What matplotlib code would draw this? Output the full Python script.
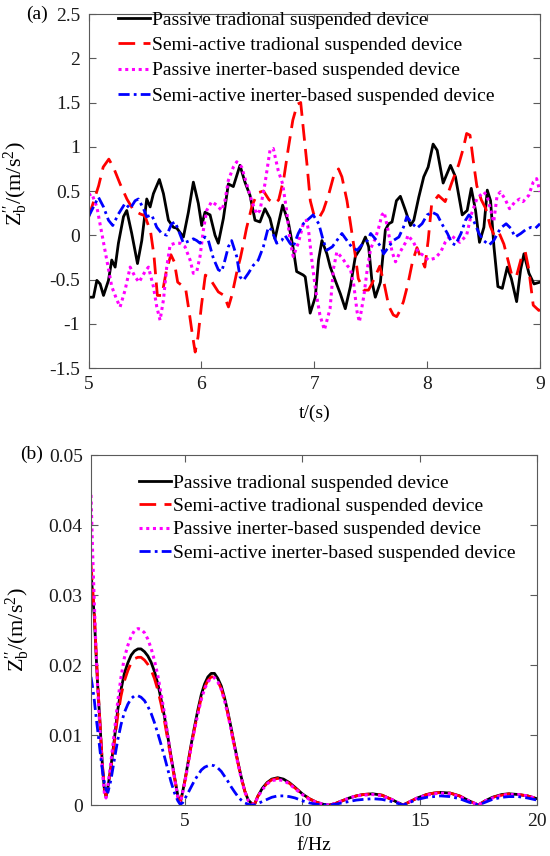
import matplotlib
matplotlib.use("Agg")
import matplotlib.pyplot as plt

plt.rcParams['font.family'] = ['Liberation Serif', 'DejaVu Serif']
plt.rcParams['mathtext.fontset'] = 'custom'
plt.rcParams['mathtext.rm'] = 'Liberation Serif'
plt.rcParams['mathtext.it'] = 'Liberation Serif:italic'

labels = ["Passive tradional suspended device",
          "Semi-active tradional suspended device",
          "Passive inerter-based suspended device",
          "Semi-active inerter-based suspended device"]

# ---------------- panel (a): time response ----------------
t_pt = [5.000, 5.044, 5.074, 5.103, 5.133, 5.177, 5.206, 5.236, 5.265, 5.310, 5.339, 5.383, 5.434, 5.472,
        5.516, 5.546, 5.575, 5.628, 5.664, 5.708, 5.752, 5.782, 5.841, 5.885, 5.929, 5.973, 6.003, 6.032,
        6.077, 6.121, 6.150, 6.195, 6.239, 6.283, 6.342, 6.386, 6.431, 6.475, 6.519, 6.563, 6.608, 6.652,
        6.720, 6.770, 6.814, 6.844, 6.903, 6.920, 6.964, 7.009, 7.038, 7.068, 7.112, 7.142, 7.186, 7.231,
        7.275, 7.320, 7.364, 7.408, 7.453, 7.482, 7.512, 7.541, 7.586, 7.630, 7.660, 7.689, 7.728, 7.763,
        7.808, 7.852, 7.882, 7.926, 7.970, 8.009, 8.053, 8.089, 8.142, 8.207, 8.251, 8.311, 8.355, 8.391,
        8.429, 8.464, 8.503, 8.533, 8.562, 8.592, 8.627, 8.666, 8.710, 8.746, 8.793, 8.828, 8.858, 8.902,
        8.947, 9.000]
a_pt = [-0.70, -0.70, -0.51, -0.55, -0.68, -0.51, -0.28, -0.36, -0.09, 0.21, 0.28, 0.02, -0.32, -0.06,
        0.41, 0.32, 0.47, 0.63, 0.47, 0.17, 0.09, 0.08, -0.02, 0.26, 0.60, 0.36, 0.11, 0.26,
        0.23, 0.00, -0.09, 0.19, 0.58, 0.55, 0.79, 0.60, 0.45, 0.17, 0.15, 0.30, 0.19, -0.04,
        0.34, 0.15, -0.15, -0.41, -0.45, -0.47, -0.88, -0.70, -0.28, -0.06, -0.21, -0.36, -0.51, -0.66,
        -0.83, -0.58, -0.24, -0.15, -0.02, -0.13, -0.53, -0.70, -0.53, 0.06, 0.13, 0.15, 0.39, 0.44,
        0.28, 0.11, 0.17, 0.43, 0.66, 0.77, 1.03, 0.96, 0.59, 0.79, 0.66, 0.23, 0.28, 0.53,
        0.28, -0.08, 0.09, 0.51, 0.39, -0.13, -0.58, -0.60, -0.36, -0.49, -0.75, -0.39, -0.21, -0.43,
        -0.55, -0.53]

t_st = [5.00, 5.04, 5.09, 5.13, 5.18, 5.22, 5.28, 5.34, 5.40, 5.46, 5.50, 5.55, 5.58, 5.61, 5.65,
        5.69, 5.73, 5.76, 5.79, 5.83, 5.86, 5.89, 5.92, 5.945, 5.97, 6.00, 6.035, 6.07, 6.11, 6.15,
        6.20, 6.24, 6.27, 6.32, 6.345, 6.375, 6.40, 6.45, 6.50, 6.55, 6.60, 6.65, 6.685, 6.73, 6.77,
        6.81, 6.85, 6.88, 6.905, 6.935, 6.965, 6.995, 7.04, 7.08, 7.13, 7.17, 7.215, 7.245, 7.29, 7.32,
        7.365, 7.39, 7.44, 7.48, 7.51, 7.545, 7.58, 7.62, 7.66, 7.70, 7.73, 7.76, 7.79, 7.83, 7.87,
        7.91, 7.94, 7.98, 8.01, 8.04, 8.10, 8.16, 8.22, 8.28, 8.32, 8.35, 8.38, 8.41, 8.44, 8.48,
        8.52, 8.56, 8.60, 8.64, 8.68, 8.72, 8.75, 8.79, 8.84, 8.87, 8.90, 8.94, 8.99, 9.00]
a_st = [0.20, 0.36, 0.56, 0.77, 0.86, 0.77, 0.58, 0.41, 0.28, 0.24, 0.22, 0.04, -0.23, -0.68, -0.68,
        -0.40, -0.22, -0.30, -0.53, -0.57, -0.60, -0.85, -1.12, -1.32, -1.15, -0.80, -0.45, -0.48, -0.56, -0.64,
        -0.68, -0.81, -0.68, -0.38, -0.26, -0.08, 0.08, 0.34, 0.48, 0.50, 0.40, 0.36, 0.40, 0.64, 0.98,
        1.30, 1.48, 1.50, 1.18, 0.81, 0.39, 0.24, 0.19, 0.28, 0.47, 0.66, 0.75, 0.66, 0.39, 0.14,
        -0.24, -0.49, -0.62, -0.62, -0.55, -0.45, -0.35, -0.55, -0.80, -0.90, -0.92, -0.85, -0.75, -0.55, -0.30,
        -0.14, -0.24, -0.36, -0.05, 0.35, 0.45, 0.38, 0.60, 0.80, 0.98, 1.15, 1.13, 0.83, 0.56, 0.40,
        0.30, 0.10, -0.02, 0.02, -0.10, -0.30, -0.45, -0.47, -0.23, -0.19, -0.38, -0.79, -0.85, -0.84]

t_pi = [5.000, 5.029, 5.074, 5.118, 5.162, 5.206, 5.251, 5.280, 5.324, 5.369, 5.413, 5.448, 5.501, 5.531,
        5.575, 5.605, 5.634, 5.664, 5.693, 5.723, 5.767, 5.811, 5.855, 5.900, 5.929, 5.959, 5.988, 6.018,
        6.047, 6.091, 6.136, 6.180, 6.209, 6.239, 6.283, 6.313, 6.357, 6.401, 6.445, 6.490, 6.519, 6.563,
        6.608, 6.637, 6.681, 6.720, 6.755, 6.785, 6.814, 6.858, 6.903, 6.93, 6.95, 6.98, 7.01, 7.05,
        7.09, 7.14, 7.17, 7.20, 7.25, 7.29, 7.32, 7.35, 7.38, 7.40, 7.44, 7.47, 7.50, 7.54,
        7.57, 7.60, 7.62, 7.65, 7.69, 7.72, 7.76, 7.81, 7.83, 7.88, 7.92, 7.97, 8.01, 8.07,
        8.12, 8.16, 8.21, 8.25, 8.29, 8.35, 8.39, 8.44, 8.50, 8.53, 8.56, 8.59, 8.62, 8.65,
        8.69, 8.73, 8.78, 8.82, 8.85, 8.90, 8.94, 8.97, 9.00]
a_pi = [0.45, 0.47, 0.32, 0.02, -0.28, -0.58, -0.73, -0.81, -0.62, -0.36, -0.47, -0.53, -0.41, -0.36,
        -0.58, -0.81, -0.96, -0.73, -0.36, -0.11, -0.09, -0.09, -0.13, -0.28, -0.43, -0.41, -0.24, 0.06,
        0.28, 0.38, 0.34, 0.28, 0.39, 0.62, 0.77, 0.83, 0.77, 0.58, 0.39, 0.24, 0.28, 0.58,
        0.96, 0.98, 0.73, 0.58, 0.28, -0.06, -0.24, -0.09, 0.13, 0.17, 0.05, -0.30, -0.60, -0.90,
        -1.07, -0.83, -0.38, -0.19, -0.26, -0.34, -0.38, -0.56, -0.87, -0.98, -0.68, -0.38, -0.15, -0.04,
        0.08, 0.23, 0.26, 0.08, -0.19, -0.30, -0.19, -0.08, 0.00, -0.08, -0.19, -0.23, -0.28, -0.26,
        -0.19, -0.08, 0.00, -0.04, -0.08, 0.00, 0.23, 0.41, 0.49, 0.45, 0.30, 0.15, 0.45, 0.49,
        0.41, 0.30, 0.38, 0.41, 0.38, 0.45, 0.60, 0.64, 0.49]

t_si = [5.000, 5.044, 5.088, 5.133, 5.177, 5.215, 5.265, 5.324, 5.369, 5.413, 5.442, 5.487, 5.516, 5.560,
        5.605, 5.649, 5.693, 5.737, 5.767, 5.796, 5.841, 5.900, 5.929, 5.959, 5.988, 6.032, 6.062, 6.106,
        6.150, 6.180, 6.209, 6.239, 6.268, 6.313, 6.342, 6.372, 6.416, 6.460, 6.504, 6.549, 6.593, 6.622,
        6.667, 6.711, 6.740, 6.785, 6.814, 6.858, 6.903, 6.99, 7.04, 7.08, 7.11, 7.16, 7.20, 7.245,
        7.29, 7.33, 7.38, 7.42, 7.47, 7.50, 7.54, 7.59, 7.615, 7.66, 7.70, 7.75, 7.79, 7.82,
        7.87, 7.91, 7.955, 8.00, 8.045, 8.09, 8.13, 8.18, 8.22, 8.25, 8.30, 8.34, 8.37, 8.41,
        8.46, 8.50, 8.55, 8.59, 8.65, 8.70, 8.74, 8.78, 8.83, 8.87, 8.92, 8.96, 9.00]
a_si = [0.21, 0.32, 0.43, 0.32, 0.17, 0.11, 0.24, 0.36, 0.30, 0.39, 0.41, 0.30, 0.21, 0.23,
        0.09, 0.02, 0.00, 0.13, 0.15, 0.06, -0.09, -0.06, -0.04, -0.06, -0.09, -0.02, -0.06, -0.26,
        -0.39, -0.41, -0.28, -0.13, -0.06, -0.24, -0.47, -0.51, -0.43, -0.34, -0.28, -0.13, 0.09, 0.06,
        -0.09, -0.06, 0.00, -0.09, -0.13, 0.02, 0.13, 0.23, 0.13, -0.06, -0.17, -0.13, -0.06, 0.02,
        -0.06, -0.13, -0.17, -0.11, -0.06, 0.02, -0.04, -0.13, -0.21, -0.13, -0.06, -0.02, 0.09, 0.21,
        0.13, 0.08, 0.13, 0.23, 0.26, 0.23, 0.13, 0.02, -0.09, -0.11, 0.02, 0.17, 0.23, 0.17,
        0.02, -0.06, -0.11, -0.06, 0.08, 0.13, 0.08, -0.02, 0.02, 0.06, 0.09, 0.08, 0.13]

# ---------------- panel (b): spectrum ----------------
freq = [1.0, 1.07, 1.14, 1.21, 1.28, 1.36, 1.43, 1.5, 1.57, 1.64,
        1.72, 1.85, 2.0, 2.14, 2.28, 2.42, 2.57, 2.71, 2.85, 3.0,
        3.13, 3.28, 3.42, 3.56, 3.7, 3.84, 3.98, 4.13, 4.27, 4.41,
        4.56, 4.70, 4.80, 4.9, 5.0, 5.13, 5.27, 5.41, 5.56, 5.70,
        5.84, 5.98, 6.12, 6.26, 6.40, 6.55, 6.69, 6.83, 6.97, 7.11,
        7.26, 7.40, 7.55, 7.70, 7.85, 7.97, 8.1, 8.3, 8.5, 8.7,
        8.95, 9.2, 9.45, 9.7, 10.0, 10.3, 10.6, 10.9, 11.15, 11.4,
        11.7, 12.0, 12.3, 12.6, 13.0, 13.4, 13.8, 14.1, 14.3, 14.6,
        14.9, 15.3, 15.6, 15.9, 16.3, 16.7, 17.1, 17.5, 17.8, 18.1,
        18.5, 18.8, 19.2, 19.6, 20.0]
s_pt = [0.0335, 0.0300, 0.0270, 0.0220, 0.0174, 0.0130, 0.0088, 0.0050, 0.0022, 0.0012,
        0.0025, 0.0055, 0.0095, 0.0136, 0.0165, 0.0188, 0.0203, 0.0214, 0.0220, 0.0223,
        0.0223, 0.0219, 0.0213, 0.0204, 0.0191, 0.0174, 0.0152, 0.0126, 0.0098, 0.0069,
        0.0040, 0.0013, 0.0003, 0.0018, 0.0035, 0.0060, 0.0087, 0.0112, 0.0137, 0.0158,
        0.0173, 0.0183, 0.0188, 0.0188, 0.0181, 0.0170, 0.0153, 0.0133, 0.0110, 0.0086,
        0.0061, 0.0040, 0.0020, 0.0007, 0.0002, 0.0001, 0.0012, 0.0024, 0.0032, 0.0037,
        0.0039, 0.0037, 0.0032, 0.0025, 0.0016, 0.0009, 0.0004, 0.0001, 0.0000, 0.0002,
        0.0006, 0.0010, 0.0013, 0.0015, 0.0016, 0.0014, 0.0008, 0.0003, 0.0000, 0.0005,
        0.0010, 0.0015, 0.0017, 0.0018, 0.0017, 0.0013, 0.0006, 0.0000, 0.0006, 0.0011,
        0.0015, 0.0016, 0.0015, 0.0013, 0.0009]
s_st = [0.0345, 0.0310, 0.0275, 0.0225, 0.0178, 0.0132, 0.0090, 0.0052, 0.0024, 0.0013,
        0.0025, 0.0052, 0.0090, 0.0128, 0.0156, 0.0177, 0.0192, 0.0203, 0.0209, 0.0211,
        0.0211, 0.0207, 0.0201, 0.0193, 0.0181, 0.0165, 0.0145, 0.0120, 0.0093, 0.0066,
        0.0038, 0.0012, 0.0003, 0.0017, 0.0034, 0.0058, 0.0085, 0.0109, 0.0133, 0.0153,
        0.0168, 0.0178, 0.0183, 0.0183, 0.0177, 0.0166, 0.0150, 0.0130, 0.0108, 0.0084,
        0.0060, 0.0039, 0.0020, 0.0007, 0.0002, 0.0001, 0.0012, 0.0023, 0.0031, 0.0036,
        0.0038, 0.0036, 0.0031, 0.0024, 0.0016, 0.0009, 0.0004, 0.0001, 0.0000, 0.0002,
        0.0006, 0.0010, 0.0013, 0.0015, 0.0016, 0.0014, 0.0008, 0.0003, 0.0000, 0.0005,
        0.0010, 0.0015, 0.0017, 0.0018, 0.0017, 0.0013, 0.0006, 0.0000, 0.0006, 0.0011,
        0.0014, 0.0016, 0.0015, 0.0013, 0.0009]
s_pi = [0.0443, 0.0360, 0.0290, 0.0225, 0.0170, 0.0120, 0.0078, 0.0042, 0.0017, 0.0010,
        0.0028, 0.0062, 0.0106, 0.0148, 0.0183, 0.0210, 0.0228, 0.0241, 0.0249, 0.0252,
        0.0251, 0.0246, 0.0237, 0.0224, 0.0207, 0.0186, 0.0160, 0.0131, 0.0100, 0.0069,
        0.0038, 0.0011, 0.0002, 0.0017, 0.0033, 0.0057, 0.0083, 0.0108, 0.0131, 0.0151,
        0.0166, 0.0176, 0.0181, 0.0182, 0.0176, 0.0165, 0.0149, 0.0129, 0.0107, 0.0083,
        0.0059, 0.0038, 0.0019, 0.0006, 0.0002, 0.0001, 0.0011, 0.0022, 0.0030, 0.0035,
        0.0036, 0.0035, 0.0030, 0.0023, 0.0015, 0.0008, 0.0004, 0.0001, 0.0000, 0.0002,
        0.0006, 0.0010, 0.0013, 0.0014, 0.0015, 0.0013, 0.0008, 0.0003, 0.0000, 0.0005,
        0.0010, 0.0014, 0.0016, 0.0017, 0.0016, 0.0012, 0.0006, 0.0000, 0.0006, 0.0010,
        0.0014, 0.0015, 0.0015, 0.0013, 0.0009]
s_si = [0.0183, 0.0168, 0.0150, 0.0128, 0.0108, 0.0085, 0.0064, 0.0046, 0.0032, 0.0022,
        0.0018, 0.0036, 0.0066, 0.0093, 0.0115, 0.0132, 0.0144, 0.0152, 0.0156, 0.0156,
        0.0154, 0.0149, 0.0141, 0.0131, 0.0118, 0.0103, 0.0087, 0.0069, 0.0051, 0.0033,
        0.0017, 0.0006, 0.0001, 0.0003, 0.0009, 0.0017, 0.0026, 0.0035, 0.0043, 0.0050,
        0.0054, 0.0056, 0.0057, 0.0056, 0.0053, 0.0048, 0.0041, 0.0034, 0.0026, 0.0019,
        0.0012, 0.0007, 0.0003, 0.0001, 0.0000, 0.0000, 0.0002, 0.0005, 0.0008, 0.0011,
        0.0013, 0.0013, 0.0012, 0.0010, 0.0006, 0.0003, 0.0001, 0.0000, 0.0000, 0.0001,
        0.0003, 0.0005, 0.0007, 0.0008, 0.0009, 0.0008, 0.0005, 0.0002, 0.0000, 0.0004,
        0.0008, 0.0011, 0.0012, 0.0013, 0.0012, 0.0009, 0.0004, 0.0000, 0.0004, 0.0008,
        0.0011, 0.0012, 0.0012, 0.0010, 0.0007]

a_yticks = [-1.5, -1, -0.5, 0, 0.5, 1, 1.5, 2, 2.5]
a_yticklabels = ["-1.5", "-1", "-0.5", "0", "0.5", "1", "1.5", "2", "2.5"]
a_xticks = [5, 6, 7, 8, 9]
b_yticks = [0, 0.01, 0.02, 0.03, 0.04, 0.05]
b_yticklabels = ["0", "0.01", "0.02", "0.03", "0.04", "0.05"]
b_xticks = [5, 10, 15, 20]

W, H = 550, 856
fig = plt.figure(figsize=(W / 100, H / 100), dpi=100)

styles = [dict(color='black', linestyle='-', lw=2.0),
          dict(color='#ff0000', linestyle=(0, (6, 3)), lw=2.0),
          dict(color='#ff00ff', linestyle=(0, (1, 1.2)), lw=2.2),
          dict(color='#0000ff', linestyle=(0, (4, 1.5, 1, 1.5)), lw=2.0)]

FS = 14
YFS = 16
axcol = '#5a5a5a'
ylab = r"$\mathrm{Z}^{\prime\prime}_{\mathrm{b}}\mathrm{/(m/s^{2})}$"


def style_axes(ax):
    for s in ax.spines.values():
        s.set_color(axcol)
        s.set_linewidth(0.8)
    ax.tick_params(direction='in', length=5, width=0.8, colors=axcol, labelcolor='#1a1a1a',
                   labelsize=FS, top=True, right=True, pad=6)


def fbox(x0, y0, x1, y1):
    return [x0 / W, 1 - y1 / H, (x1 - x0) / W, (y1 - y0) / H]


# panel (a)
ax1 = fig.add_axes(fbox(88.5, 14, 540, 368))
for (t, a), st, lab in zip([(t_pt, a_pt), (t_st, a_st), (t_pi, a_pi), (t_si, a_si)], styles, labels):
    ax1.plot(t, a, label=lab, **st)
ax1.set_xlim(5, 9)
ax1.set_ylim(-1.5, 2.5)
ax1.set_xticks(a_xticks)
ax1.set_yticks(a_yticks)
ax1.set_yticklabels(a_yticklabels)
style_axes(ax1)
ax1.set_xlabel("t/(s)", fontsize=FS, labelpad=8)
ax1.set_ylabel(ylab, fontsize=YFS)
ax1.yaxis.set_label_coords(-0.13, 0.52)
leg1 = ax1.legend(loc='upper left', bbox_to_anchor=(118 / W, 1 - 11 / H), bbox_transform=fig.transFigure,
                  frameon=False, fontsize=FS, handlelength=1.65, handletextpad=0.1, labelspacing=0.4,
                  borderpad=0, borderaxespad=0)
fig.text(26 / W, 1 - 14 / H, "(a)", fontsize=FS, va='center', ha='left')

# panel (b)
ax2 = fig.add_axes(fbox(91, 455, 537, 805))
for s, st, lab in zip([s_pt, s_st, s_pi, s_si], styles, labels):
    ax2.plot(freq, s, label=lab, **st)
ax2.set_xlim(1, 20)
ax2.set_ylim(0, 0.05)
ax2.set_xticks(b_xticks)
ax2.set_yticks(b_yticks)
ax2.set_yticklabels(b_yticklabels)
style_axes(ax2)
ax2.set_xlabel("f/Hz", fontsize=FS, labelpad=5)
ax2.set_ylabel(ylab, fontsize=YFS)
ax2.yaxis.set_label_coords(-0.132, 0.5)
leg2 = ax2.legend(loc='upper left', bbox_to_anchor=(139 / W, 1 - 474 / H), bbox_transform=fig.transFigure,
                  frameon=False, fontsize=FS, handlelength=1.65, handletextpad=0.1, labelspacing=0.3,
                  borderpad=0, borderaxespad=0)
fig.text(20 / W, 1 - 454 / H, "(b)", fontsize=FS, va='center', ha='left')

fig.savefig("out.png", dpi=100)
